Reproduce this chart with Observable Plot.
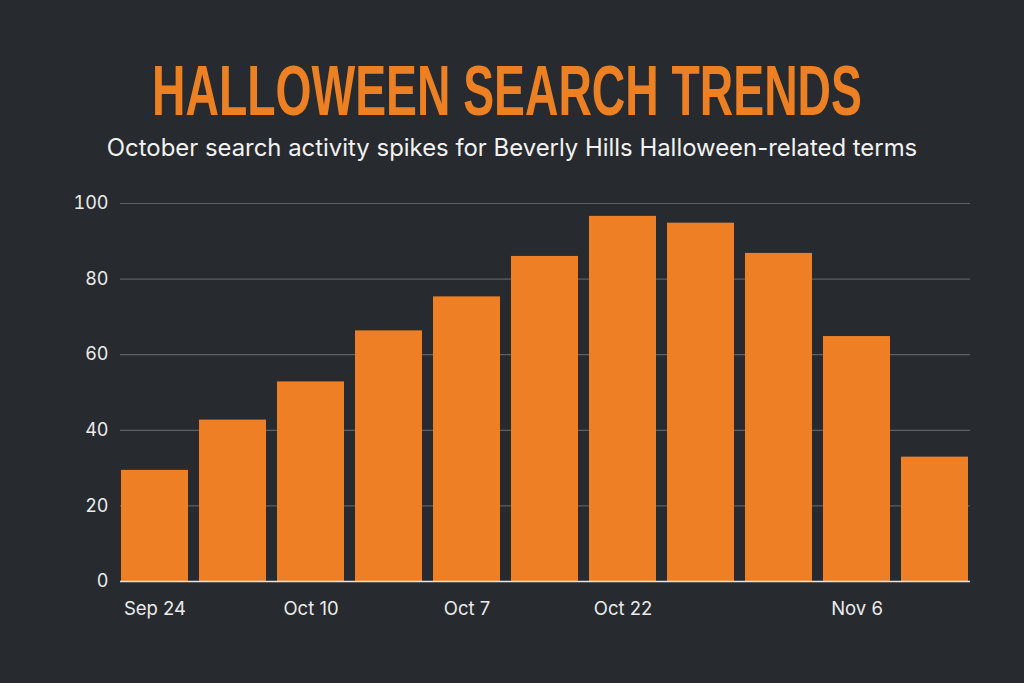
<!DOCTYPE html>
<html>
<head>
<meta charset="utf-8">
<script src="https://cdn.jsdelivr.net/npm/d3@7"></script>
<script src="https://cdn.jsdelivr.net/npm/@observablehq/plot@0.6"></script>
<style>
  html, body { margin: 0; padding: 0; background: #272a2e; }
  #wrap { width: 1024px; height: 683px; background: #272a2e; overflow: hidden; }
  #header { display: block; }
</style>
</head>
<body>
<div id="wrap">
  <svg id="header" width="1024" height="175"></svg>
  <div id="chart"></div>
</div>
<script>
const titleText = "HALLOWEEN SEARCH TRENDS";
const subtitleText = "October search activity spikes for Beverly Hills Halloween-related terms";

const weeks = ["w1","w2","w3","w4","w5","w6","w7","w8","w9","w10","w11"];
const weekLabels = ["Sep 24","","Oct 10","","Oct 7","","Oct 22","","","Nov 6",""];
const interest = [29.4, 42.7, 52.8, 66.3, 75.3, 86.0, 96.6, 94.8, 86.8, 64.8, 32.9];
const yTicks = [0, 20, 40, 60, 80, 100];

const data = weeks.map((w, i) => ({week: w, value: interest[i]}));
const labelOf = new Map(weeks.map((w, i) => [w, weekLabels[i]]));

// Header
const header = d3.select("#header");
const title = header.append("text")
  .attr("x", 0).attr("y", 0)
  .attr("text-anchor", "middle")
  .attr("fill", "#ee8024")
  .style("font-family", "'Liberation Sans Narrow', 'Liberation Sans', Arial, sans-serif")
  .style("font-weight", "bold")
  .style("font-size", "70px")
  .text(titleText);
const naturalW = title.node().getComputedTextLength() || 1000;
title.attr("transform", `translate(507,115) scale(${710 / naturalW},1)`);

const sub = header.append("text")
  .attr("x", 0).attr("y", 0)
  .attr("text-anchor", "middle")
  .attr("fill", "#f2f2f2")
  .style("font-family", "Inter, 'Noto Sans', sans-serif")
  .style("font-size", "24px")
  .text(subtitleText);
const subW = sub.node().getComputedTextLength() || 811;
sub.attr("transform", `translate(512,156) scale(${811 / subW},1)`);

const chart = Plot.plot({
  width: 1024,
  height: 508,
  marginTop: 28,
  marginBottom: 102,
  marginLeft: 120,
  marginRight: 54,
  style: {
    background: "#272a2e",
    color: "#ececec",
    fontFamily: "Inter, 'Noto Sans', sans-serif",
    fontSize: "18px"
  },
  x: {domain: weeks, paddingInner: 0.14, paddingOuter: 0, label: null},
  y: {domain: [0, 100], label: null},
  marks: [
    Plot.gridY(yTicks.filter(d => d > 0), {stroke: "#5d6064", strokeOpacity: 1, strokeWidth: 1.2}),
    Plot.barY(data, {x: "week", y: "value", fill: "#ee7f24"}),
    Plot.ruleY([0], {stroke: "#e6e6e6", strokeWidth: 1.5}),
    Plot.axisY({ticks: yTicks, tickSize: 0, tickPadding: 12, label: null, fontSize: 18, fill: "#ececec"}),
    Plot.axisX({tickSize: 0, tickPadding: 20, label: null, tickFormat: d => labelOf.get(d), fontSize: 18.5, fill: "#ececec"})
  ]
});
document.getElementById("chart").appendChild(chart);
</script>
</body>
</html>
